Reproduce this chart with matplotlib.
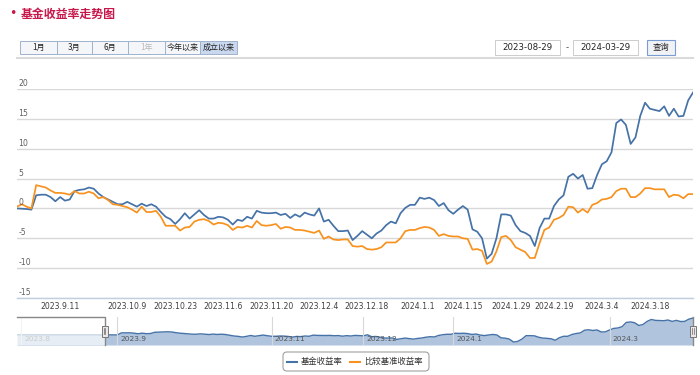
import matplotlib
matplotlib.use('Agg')
import matplotlib.pyplot as plt
import matplotlib.transforms as mtransforms
from matplotlib.patches import Rectangle, FancyBboxPatch
import numpy as np
import pandas as pd

plt.rcParams['font.family'] = ['Noto Sans CJK SC', 'DejaVu Sans']

# ---------------- data ----------------
title = '基金收益率走势图'
series_names = ['基金收益率', '比较基准收益率']
range_buttons = ['1月', '3月', '6月', '1年', '今年以来', '成立以来']
selected_button = '成立以来'
disabled_button = '1年'
start_date = '2023-08-29'
end_date = '2024-03-29'
query_label = '查询'

holidays = ['2023-09-29', '2023-10-02', '2023-10-03', '2023-10-04', '2023-10-05',
            '2023-10-06', '2024-01-01', '2024-02-09', '2024-02-12', '2024-02-13',
            '2024-02-14', '2024-02-15', '2024-02-16']
extra_dates = ['2023-12-31']

fund = [0.0, -0.05, -0.1, -0.2, 2.2, 2.3, 2.3, 1.9, 1.2, 1.9,
        1.3, 1.5, 2.9, 3.1, 3.2, 3.5, 3.3, 2.5, 1.9, 1.5,
        1.1, 0.7, 0.7, 1.1, 0.7, 0.3, 0.8, 0.4, 0.7, 0.3,
        -0.6, -1.4, -1.8, -2.6, -1.8, -0.8, -1.7, -1.0, -0.3, -1.1,
        -1.7, -1.7, -1.4, -1.5, -1.9, -2.7, -1.9, -2.1, -1.4, -1.7,
        -0.4, -0.7, -0.8, -0.8, -0.7, -1.1, -0.9, -1.6, -1.0, -1.4,
        -0.7, -1.0, -1.2, 0.0, -2.2, -1.9, -2.9, -3.8, -3.8, -3.7,
        -5.3, -4.6, -3.8, -4.4, -5.0, -4.2, -3.7, -2.8, -2.2, -2.5,
        -0.8, 0.1, 0.6, 0.6, 1.8, 1.6, 1.8, 1.4, 0.4, 0.9,
        -0.3, -0.9, -0.2, 0.4, -0.2, -3.5, -3.9, -5.0, -8.4, -7.6,
        -5.0, -1.0, -1.0, -1.2, -2.8, -3.8, -4.1, -4.6, -6.3, -3.3,
        -1.7, -1.7, 0.4, 1.5, 2.2, 5.3, 5.8, 5.0, 5.6, 3.3,
        3.4, 5.6, 7.4, 7.9, 9.4, 14.3, 14.9, 14.0, 10.8, 11.9,
        15.5, 17.7, 16.7, 16.5, 16.3, 17.1, 15.5, 16.7, 15.4, 15.5,
        18.1, 19.4]

bench = [0.3, 0.7, 0.3, 0.0, 3.9, 3.7, 3.5, 3.0, 2.6, 2.6,
         2.5, 2.3, 2.9, 2.5, 2.5, 2.8, 2.5, 1.7, 1.9, 1.4,
         0.7, 0.6, 0.4, 0.2, -0.2, -0.7, 0.3, -0.6, -0.6, -0.4,
         -1.4, -2.9, -2.9, -2.9, -3.7, -3.2, -3.1, -2.2, -1.9, -1.8,
         -2.1, -2.7, -2.4, -2.5, -2.8, -3.6, -3.1, -3.2, -2.9, -3.2,
         -2.1, -2.8, -2.9, -2.8, -2.6, -3.4, -3.1, -3.2, -3.6, -3.6,
         -3.7, -3.9, -4.1, -3.7, -5.1, -4.7, -5.2, -5.3, -5.2, -5.2,
         -6.3, -6.4, -6.3, -6.8, -6.9, -6.8, -6.5, -5.7, -5.7, -5.7,
         -5.0, -3.8, -3.6, -3.6, -3.3, -3.1, -3.2, -3.6, -4.6, -4.3,
         -4.6, -4.7, -4.7, -5.0, -5.1, -6.9, -6.8, -7.1, -9.3, -8.9,
         -7.2, -4.8, -4.6, -5.3, -6.5, -6.9, -7.3, -8.3, -8.3, -5.8,
         -3.6, -3.2, -1.9, -1.6, -1.1, 0.3, 0.2, -0.7, -0.1, -0.7,
         0.6, 0.9, 1.5, 1.6, 1.9, 2.9, 3.3, 3.3, 1.9, 1.9,
         2.5, 3.4, 3.4, 3.2, 3.2, 3.2, 1.9, 2.3, 2.2, 1.7,
         2.4, 2.4]

# navigator: flat period before the displayed range
nav_pre_start = '2023-07-31'
nav_pre = [0.0, 0.0, 0.0, 0.0, 0.0, 0.0, 0.0, 0.0, 0.0, 0.0, 0.0,
           0.0, 0.0, 0.0, 0.0, 0.0, 0.0, 0.0, 0.0, 0.0, 0.0]

xtick_dates = ['2023-09-11', '2023-10-09', '2023-10-23', '2023-11-06', '2023-11-20',
               '2023-12-04', '2023-12-18', '2024-01-01', '2024-01-15', '2024-01-29',
               '2024-02-19', '2024-03-04', '2024-03-18']
xtick_labels = ['2023.9.11', '2023.10.9', '2023.10.23', '2023.11.6', '2023.11.20',
                '2023.12.4', '2023.12.18', '2024.1.1', '2024.1.15', '2024.1.29',
                '2024.2.19', '2024.3.4', '2024.3.18']
xtick_mark_dates = ['2023-09-11', '2023-10-23', '2023-11-20', '2023-12-18',
                    '2024-01-15', '2024-02-19', '2024-03-18']
ytick_values = [-15, -10, -5, 0, 5, 10, 15, 20]

nav_month_dates = ['2023-08-01', '2023-09-01', '2023-11-01', '2023-12-01',
                   '2024-01-01', '2024-03-01']
nav_month_labels = ['2023.8', '2023.9', '2023.11', '2023.12', '2024.1', '2024.3']

# ---------------- dates / ordinal positions ----------------
days = pd.bdate_range(start_date, end_date).drop(pd.to_datetime(holidays))
days = days.append(pd.to_datetime(extra_dates)).sort_values()
idx = np.arange(len(days))
ts = days.asi8.astype(float)

pre_days = pd.bdate_range(nav_pre_start, days[0] - pd.Timedelta(days=1))
nav_days = pre_days.append(days)
nav_idx = np.arange(len(nav_days)) - len(pre_days)
nav_ts = nav_days.asi8.astype(float)
nav_vals = list(nav_pre) + list(fund)


def pos(dates, t_arr, i_arr):
    return np.interp(pd.to_datetime(dates).asi8.astype(float), t_arr, i_arr)


# ---------------- figure ----------------
W, H = 700, 375
fig = plt.figure(figsize=(7, 3.75), dpi=100)
BLUE = '#4572A7'
ORANGE = '#F7921E'
RED = '#C8174B'

# main plot
L, R, T, B = 17, 693, 89, 298
ax = fig.add_axes([L / W, 1 - B / H, (R - L) / W, (B - T) / H])
ax.set_facecolor('none')
ax.plot(idx, fund, color=BLUE, lw=1.25, zorder=3, solid_joinstyle='round')
ax.plot(idx, bench, color=ORANGE, lw=1.25, zorder=3, solid_joinstyle='round')
ax.set_xlim(idx[0], idx[-1])
ax.set_ylim(ytick_values[0], ytick_values[-1])
for s in ['top', 'left', 'right']:
    ax.spines[s].set_visible(False)
ax.spines['bottom'].set_color('#C0D0E0')
ax.spines['bottom'].set_linewidth(1.0)
ax.set_yticks(ytick_values)
ax.set_yticklabels([])
ax.tick_params(axis='y', length=0)
ax.grid(axis='y', color='#D8D8D8', lw=1.0, zorder=0)
ax.set_axisbelow(True)
ytrans = mtransforms.blended_transform_factory(ax.transAxes, ax.transData)
for v in ytick_values:
    ax.text(0.002, v, str(v), transform=mtransforms.offset_copy(ytrans, fig=fig, x=0, y=1, units='dots'),
            ha='left', va='bottom', fontsize=5.6, color='#606060', family='DejaVu Sans')
ax.set_xticks(pos(xtick_dates, ts, idx))
ax.set_xticklabels(xtick_labels, fontsize=5.6, color='#404040', family='DejaVu Sans')
ax.tick_params(axis='x', which='major', length=0, pad=3)
ax.set_xticks(pos(xtick_mark_dates, ts, idx), minor=True)
ax.tick_params(axis='x', which='minor', length=4, color='#C0D0E0', width=1)

# navigator
NT, NB = 317, 345
axn = fig.add_axes([L / W, 1 - NB / H, (R - L) / W, (NB - NT) / H])
axn.set_xlim(nav_idx[0], nav_idx[-1])
axn.set_ylim(-11.8, 20.6)
axn.axis('off')
axn.fill_between(nav_idx, nav_vals, -11.8, color='#B0C4DE', lw=0, zorder=1)
axn.plot(nav_idx, nav_vals, color=BLUE, lw=1.0, zorder=2)
ntrans = mtransforms.blended_transform_factory(axn.transData, axn.transAxes)
for d, lab in zip(pos(nav_month_dates, nav_ts, nav_idx), nav_month_labels):
    axn.plot([d, d], [0, 1], transform=ntrans, color='#D8D8D8', lw=0.8, zorder=3)
    axn.text(d, 0.22, lab, transform=mtransforms.offset_copy(ntrans, fig=fig, x=3, y=0, units='dots'),
             fontsize=5.3, color='#555555', va='center', ha='left', family='DejaVu Sans', zorder=4)
axn.add_patch(Rectangle((nav_idx[0], 0), 0 - nav_idx[0], 1, transform=ntrans,
                        facecolor='white', alpha=0.7, lw=0, zorder=5))
axn.plot([nav_idx[0], 0, 0], [1, 1, 0], transform=ntrans, color='#888888', lw=1.0,
         zorder=6, clip_on=False)
axn.plot([idx[-1], idx[-1]], [1, 0], transform=ntrans, color='#888888', lw=1.0,
         zorder=6, clip_on=False)
for hx in [0, idx[-1]]:
    hw = 0.7
    axn.add_patch(Rectangle((hx - hw, 0.29), 2 * hw, 0.40, transform=ntrans,
                            facecolor='#EBE7E8', edgecolor='#777777', lw=0.7, zorder=7,
                            clip_on=False))
    axn.plot([hx - 0.2, hx - 0.2], [0.38, 0.60], transform=ntrans, color='#666666', lw=0.5,
             zorder=8, clip_on=False)
    axn.plot([hx + 0.2, hx + 0.2], [0.38, 0.60], transform=ntrans, color='#666666', lw=0.5,
             zorder=8, clip_on=False)

# UI overlay in pixel coordinates
ui = fig.add_axes([0, 0, 1, 1], zorder=10)
ui.set_xlim(0, W)
ui.set_ylim(H, 0)
ui.axis('off')
ui.patch.set_alpha(0)

ui.text(9, 14, '•', color=RED, fontsize=9, va='center', ha='left', family='DejaVu Sans')
ui.text(21, 14, title, color=RED, fontsize=8.6, fontweight='bold', va='center', ha='left')

edges = [20, 57, 92, 128, 165, 200, 237]
for i, lab in enumerate(range_buttons):
    x0, x1 = edges[i], edges[i + 1]
    sel = lab == selected_button
    ui.add_patch(Rectangle((x0, 41), x1 - x0, 13,
                           facecolor='#C9D8EE' if sel else '#F4F6FA',
                           edgecolor='#9FB2CC', lw=0.7))
    ui.text((x0 + x1) / 2, 47.8, lab, fontsize=5.8, ha='center', va='center',
            color='#BBBBBB' if lab == disabled_button else '#222222')

ui.add_patch(Rectangle((495, 40), 65, 15, facecolor='white', edgecolor='#CCCCCC', lw=0.7))
ui.text(527.5, 47.8, start_date, fontsize=6.2, ha='center', va='center', color='#222222',
        family='DejaVu Sans')
ui.text(567, 47.5, '-', fontsize=6.2, ha='center', va='center', color='#444444',
        family='DejaVu Sans')
ui.add_patch(Rectangle((573, 40), 65, 15, facecolor='white', edgecolor='#CCCCCC', lw=0.7))
ui.text(605.5, 47.8, end_date, fontsize=6.2, ha='center', va='center', color='#222222',
        family='DejaVu Sans')
ui.add_patch(Rectangle((647, 40), 28, 15, facecolor='#F0F2F6', edgecolor='#7A9CD3', lw=0.8))
ui.text(661, 47.8, query_label, fontsize=6, ha='center', va='center', color='#222222')

ui.plot([17, 693], [58, 58], color='#DADADA', lw=1.5)

# legend
ui.add_patch(FancyBboxPatch((283, 352), 146, 19, boxstyle='round,pad=0,rounding_size=4',
                            facecolor='white', edgecolor='#A0A0A0', lw=0.8))
ui.plot([287, 297], [361.5, 361.5], color=BLUE, lw=1.5)
ui.text(301, 361.5, series_names[0], fontsize=6, va='center', ha='left', color='#333333')
ui.plot([350, 360], [361.5, 361.5], color=ORANGE, lw=1.5)
ui.text(364, 361.5, series_names[1], fontsize=6, va='center', ha='left', color='#333333')

fig.savefig('out.png', dpi=100)
